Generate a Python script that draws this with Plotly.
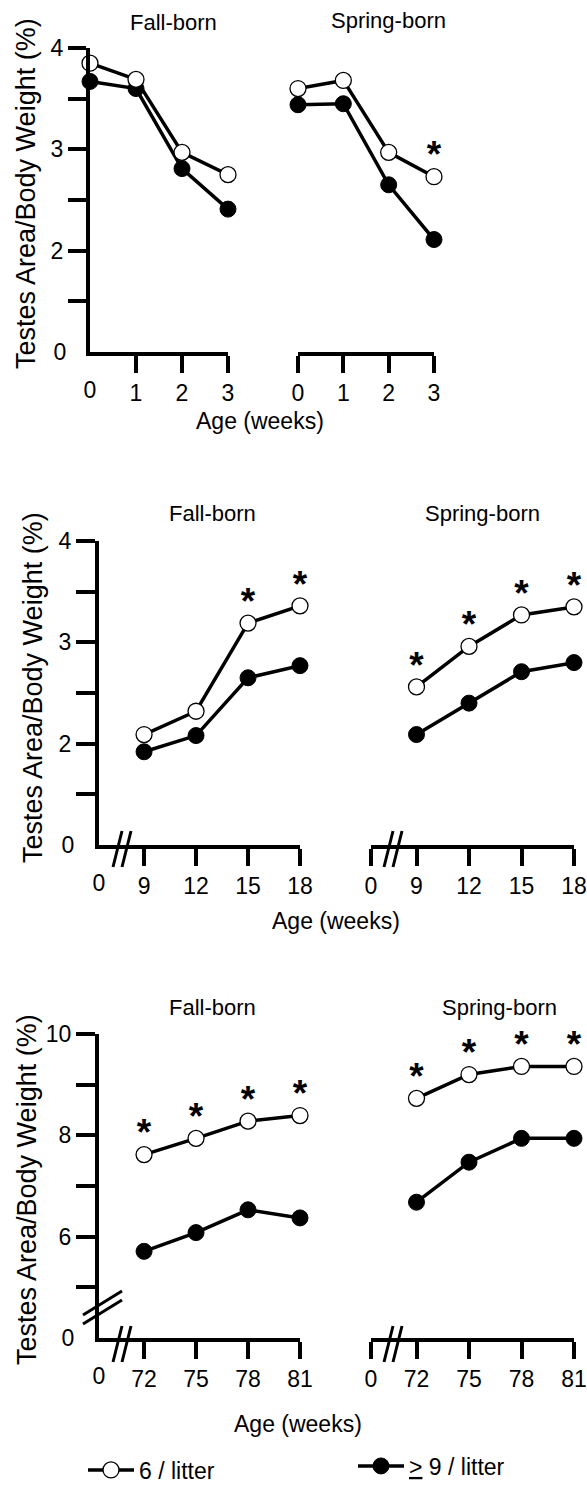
import plotly.graph_objects as go

W, H = 587, 1485
FONT = "Arial, Liberation Sans, Helvetica, sans-serif"

# ---------------- data ----------------
wk_early = [0, 1, 2, 3]
fall_early_6 = [3.85, 3.69, 2.97, 2.75]
fall_early_9 = [3.67, 3.60, 2.81, 2.41]
spring_early_6 = [3.60, 3.68, 2.97, 2.73]
spring_early_9 = [3.44, 3.45, 2.65, 2.11]
sig_fall_early = [False, False, False, False]
sig_spring_early = [False, False, False, True]

wk_mid = [9, 12, 15, 18]
fall_mid_6 = [2.09, 2.32, 3.19, 3.36]
fall_mid_9 = [1.92, 2.08, 2.65, 2.77]
spring_mid_6 = [2.56, 2.96, 3.27, 3.35]
spring_mid_9 = [2.09, 2.40, 2.71, 2.80]
sig_fall_mid = [False, False, True, True]
sig_spring_mid = [True, True, True, True]

wk_late = [72, 75, 78, 81]
fall_late_6 = [7.62, 7.94, 8.28, 8.39]
fall_late_9 = [5.71, 6.08, 6.53, 6.37]
spring_late_6 = [8.73, 9.20, 9.36, 9.36]
spring_late_9 = [6.68, 7.47, 7.94, 7.94]
sig_fall_late = [True, True, True, True]
sig_spring_late = [True, True, True, True]

label_6 = "6 / litter"
label_9 = "<u>&gt;</u> 9 / litter"
panel_titles = ["Fall-born", "Spring-born"]
x_title = "Age (weeks)"
y_title = "Testes Area/Body Weight (%)"

# ---------------- layout helpers ----------------
def fx(p):
    return p / W

def fy(p):
    return 1 - p / H

rows = [
    dict(weeks=wk_early, data=[(fall_early_6, fall_early_9, sig_fall_early),
                               (spring_early_6, spring_early_9, sig_spring_early)],
         xdom=[(90, 228), (298, 434)], xr=[0, 3], ydom=(48, 352), yr=[1, 4],
         yt=[1.5, 2, 2.5, 3, 3.5, 4], ytt=["", "2", "", "3", "", "4"], ybot="0",
         ytl=18),
    dict(weeks=wk_mid, data=[(fall_mid_6, fall_mid_9, sig_fall_mid),
                             (spring_mid_6, spring_mid_9, sig_spring_mid)],
         xdom=[(99, 300), (371, 574)], xr=[6.4, 18], ydom=(541, 845), yr=[1, 4],
         yt=[1.5, 2, 2.5, 3, 3.5, 4], ytt=["", "2", "", "3", "", "4"], ybot="0",
         ytl=19),
    dict(weeks=wk_late, data=[(fall_late_6, fall_late_9, sig_fall_late),
                              (spring_late_6, spring_late_9, sig_spring_late)],
         xdom=[(99, 300), (371, 574)], xr=[69.4, 81], ydom=(1034, 1338), yr=[4, 10],
         yt=[5, 6, 7, 8, 9, 10], ytt=["", "6", "", "8", "", "10"], ybot="0",
         ytl=19),
]

fig = go.Figure()
layout = {}
tickfont = dict(family=FONT, size=23, color="black")
LW = 3.5
MS = 16

n = 0
overlay_id = 7
for ri, row in enumerate(rows):
    for ci in range(2):
        n += 1
        xa = "x" if n == 1 else f"x{n}"
        ya = "y" if n == 1 else f"y{n}"
        xkey = "xaxis" if n == 1 else f"xaxis{n}"
        ykey = "yaxis" if n == 1 else f"yaxis{n}"
        d0, d1 = row["xdom"][ci]
        y0p, y1p = row["ydom"]
        x_start = row["xr"][0]
        rest = [w for w in row["weeks"] if w != x_start]
        if ci == 0:
            xtv = rest
            xtt = [str(w) for w in rest]
        else:
            xtv = [x_start] + rest
            xtt = ["0"] + [str(w) for w in rest]
        layout[xkey] = dict(domain=[fx(d0), fx(d1)], range=row["xr"], anchor=ya,
                            showline=True, linewidth=4, linecolor="black",
                            ticks="outside", ticklen=17, tickwidth=4, tickcolor="black",
                            tickvals=xtv, ticktext=xtt, tickfont=tickfont,
                            showgrid=False, zeroline=False, fixedrange=True)
        if ci == 0:
            layout[ykey] = dict(domain=[fy(y1p), fy(y0p)], range=row["yr"], anchor=xa,
                                showline=True, linewidth=4, linecolor="black",
                                ticks="outside", ticklen=row["ytl"], tickwidth=4,
                                tickcolor="black", tickvals=row["yt"], ticktext=row["ytt"],
                                tickfont=tickfont, showgrid=False, zeroline=False)
            # overlay axes carrying the tick-less "0" labels at the corner
            ox = f"xaxis{overlay_id}"
            oy = f"yaxis{overlay_id}"
            layout[ox] = dict(overlaying=xa, anchor=ya, range=row["xr"], side="bottom",
                              showline=False, ticks="outside", ticklen=17, tickwidth=4,
                              tickcolor="rgba(0,0,0,0)", tickvals=[x_start],
                              ticktext=["0"], tickfont=tickfont, showgrid=False,
                              zeroline=False)
            layout[oy] = dict(overlaying=ya, anchor=xa, range=row["yr"], side="left",
                              showline=False, ticks="outside", ticklen=row["ytl"],
                              tickwidth=4, tickcolor="rgba(0,0,0,0)",
                              tickvals=[row["yr"][0]], ticktext=[row["ybot"]],
                              tickfont=tickfont, showgrid=False, zeroline=False)
            fig.add_trace(go.Scatter(x=[x_start], y=[row["yr"][0]],
                                     xaxis=f"x{overlay_id}", yaxis=f"y{overlay_id}",
                                     mode="markers", marker=dict(opacity=0),
                                     showlegend=False, hoverinfo="skip"))
            overlay_id += 1
        else:
            layout[ykey] = dict(domain=[fy(y1p), fy(y0p)], range=row["yr"], anchor=xa,
                                visible=False, showgrid=False, zeroline=False)

        v6, v9, sig = row["data"][ci]
        first = (n == 1)
        fig.add_trace(go.Scatter(
            x=row["weeks"], y=v9, xaxis=xa, yaxis=ya, mode="lines+markers",
            line=dict(color="black", width=LW),
            marker=dict(symbol="circle", size=MS, color="black",
                        line=dict(color="black", width=1)),
            name=label_9, legendgroup="g9", showlegend=first, legend="legend2",
            cliponaxis=False))
        fig.add_trace(go.Scatter(
            x=row["weeks"], y=v6, xaxis=xa, yaxis=ya, mode="lines+markers",
            line=dict(color="black", width=LW),
            marker=dict(symbol="circle", size=MS, color="white",
                        line=dict(color="black", width=1.3)),
            name=label_6, legendgroup="g6", showlegend=first, legend="legend",
            cliponaxis=False))
        sx = [w for w, s in zip(row["weeks"], sig) if s]
        sy = [v for v, s in zip(v6, sig) if s]
        if sx:
            fig.add_trace(go.Scatter(
                x=sx, y=sy, xaxis=xa, yaxis=ya, mode="text",
                text=["<b>*</b>"] * len(sx), textposition="top center",
                textfont=dict(family=FONT, size=37, color="black"),
                showlegend=False, hoverinfo="skip", cliponaxis=False))

# ---------------- annotations (titles) ----------------
ann = []
def add_text(txt, xp, yp, size, angle=0):
    ann.append(dict(text=txt, x=fx(xp), y=fy(yp), xref="paper", yref="paper",
                    showarrow=False, xanchor="center", yanchor="middle",
                    textangle=angle, font=dict(family=FONT, size=size, color="black")))

title_pos = [((173, 22), (388, 21)), ((212, 514), (482, 513)), ((212, 1007), (499, 1007))]
for (a, b) in title_pos:
    add_text(panel_titles[0], a[0], a[1], 22)
    add_text(panel_titles[1], b[0], b[1], 22)
for (xp, yp) in [(260, 421), (336, 921), (298, 1424)]:
    add_text(x_title, xp, yp, 23)
for (xp, yp) in [(26, 194), (33, 688), (27, 1190)]:
    add_text(y_title, xp, yp, 27, angle=-90)

# ---------------- axis break marks ----------------
shapes = []
def seg(x0, y0, x1, y1):
    shapes.append(dict(type="line", xref="paper", yref="paper",
                       x0=fx(x0), y0=fy(y0), x1=fx(x1), y1=fy(y1),
                       line=dict(color="black", width=3)))

for (bx, by) in [(113, 849), (384, 849), (113, 1344), (384, 1344)]:
    seg(bx, by + 18, bx + 9, by - 18)
    seg(bx + 9, by + 18, bx + 18, by - 18)
seg(83, 1315, 122, 1291)
seg(83, 1324, 122, 1300)

legfont = dict(family=FONT, size=23, color="black")
layout.update(dict(
    width=W, height=H, margin=dict(l=0, r=0, t=0, b=0, autoexpand=False),
    paper_bgcolor="white", plot_bgcolor="rgba(0,0,0,0)",
    annotations=ann, shapes=shapes,
    legend=dict(orientation="h", x=fx(83), y=fy(1470), xanchor="left", yanchor="middle",
                font=legfont, bgcolor="rgba(0,0,0,0)", itemwidth=46),
    legend2=dict(orientation="h", x=fx(353), y=fy(1466), xanchor="left", yanchor="middle",
                 font=legfont, bgcolor="rgba(0,0,0,0)", itemwidth=46),
    font=dict(family=FONT, color="black"),
))
fig.update_layout(**layout)
fig.write_html("out.html", config={"displayModeBar": False, "staticPlot": True},
               post_script="document.body.style.margin='0';document.body.style.overflow='hidden';")
